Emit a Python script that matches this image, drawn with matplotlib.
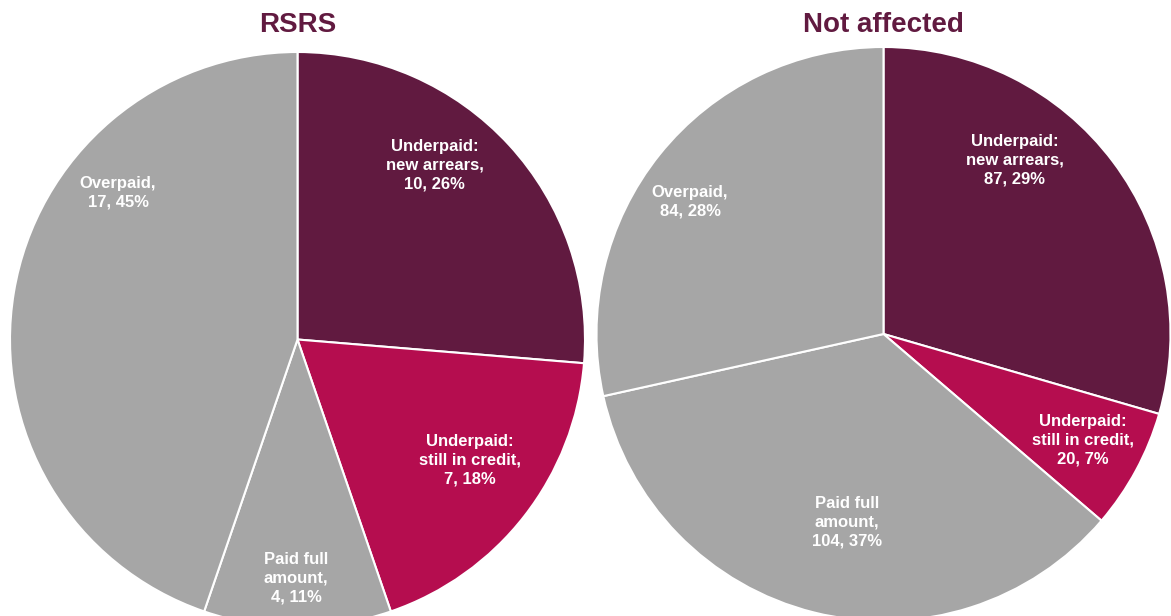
import matplotlib.pyplot as plt

plt.rcParams['font.family'] = ['Liberation Sans', 'DejaVu Sans']

categories = ['Underpaid:\nnew arrears', 'Underpaid:\nstill in credit',
              'Paid full\namount', 'Overpaid']
rsrs_counts = [10, 7, 4, 17]
rsrs_pcts = [26, 18, 11, 45]
other_counts = [87, 20, 104, 84]
other_pcts = [29, 7, 37, 28]

colors = ['#611A40', '#B50D4F', '#A6A6A6', '#A6A6A6']
title_color = '#611A40'

W, H = 1171, 616
fig = plt.figure(figsize=(W / 100, H / 100), dpi=100)


def draw_pie(cx, cy, r, counts, pcts, title, label_pos):
    # cx, cy in pixels from top-left, r in pixels
    ax = fig.add_axes([(cx - r) / W, (H - cy - r) / H, 2 * r / W, 2 * r / H])
    ax.pie(counts, colors=colors, startangle=90, counterclock=False,
           wedgeprops=dict(edgecolor='white', linewidth=1.5))
    ax.set_xlim(-1, 1)
    ax.set_ylim(-1, 1)
    ax.set_aspect('equal')
    for cat, n, p, (x, y) in zip(categories, counts, pcts, label_pos):
        txt = f'{cat},\n{n}, {p}%'
        ax.text(x, y, txt, ha='center', va='center', color='white',
                fontsize=12, fontweight='bold', linespacing=1.3, clip_on=False)
    fig.text(cx / W, 1 - 25 / H, title, ha='center', va='center',
             color=title_color, fontsize=20, fontweight='bold')
    return ax


# label layout: (x, y) in pie-radius units
draw_pie(297.5, 339.5, 287.5, rsrs_counts, rsrs_pcts, 'RSRS',
         [(0.478, 0.607), (0.6, -0.419), (-0.005, -0.83), (-0.624, 0.51)])
draw_pie(883.5, 334, 287, other_counts, other_pcts, 'Not affected',
         [(0.458, 0.606), (0.695, -0.369), (-0.127, -0.655), (-0.674, 0.46)])

fig.savefig('out.png', dpi=100)
